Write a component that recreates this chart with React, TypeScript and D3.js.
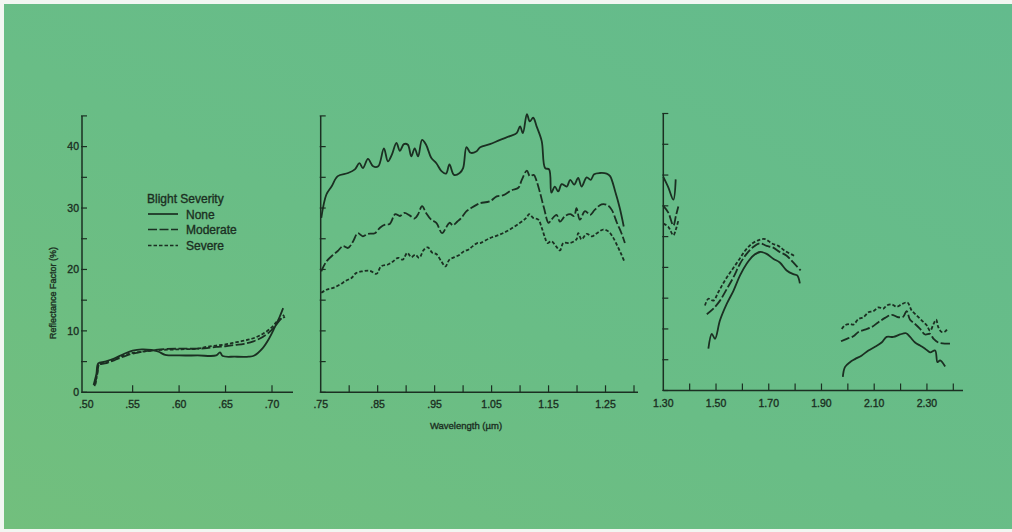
import React from "react";
import * as d3 from "d3";

type Pt = [number, number];

// ---------- DATA ----------
const seriesNames = ["None", "Moderate", "Severe"];
const yTickValues = [0, 5, 10, 15, 20, 25, 30, 35, 40, 45];
const yLabelValues = [0, 10, 20, 30, 40];

const p1TickValues = [0.55, 0.6, 0.65, 0.7];
const p1LabelValues = [0.5, 0.55, 0.6, 0.65, 0.7];
const p1LabelText = [".50", ".55", ".60", ".65", ".70"];

const p2TickValues = [0.8, 0.85, 0.9, 0.95, 1.0, 1.05, 1.1, 1.15, 1.2, 1.25, 1.3];
const p2LabelValues = [0.75, 0.85, 0.95, 1.05, 1.15, 1.25];
const p2LabelText = [".75", ".85", ".95", "1.05", "1.15", "1.25"];

const p3TickValues = [1.4, 1.5, 1.6, 1.7, 1.8, 1.9, 2.0, 2.1, 2.2, 2.3, 2.4];
const p3LabelValues = [1.3, 1.5, 1.7, 1.9, 2.1, 2.3];
const p3LabelText = ["1.30", "1.50", "1.70", "1.90", "2.10", "2.30"];

// Panel 1 (visible)
const p1None: Pt[] = [[0.508,1.2],[0.511,3.0],[0.513,4.7],[0.52,5.0],[0.53,5.5],[0.54,6.2],[0.55,6.8],[0.56,7.0],[0.57,6.9],[0.578,6.6],[0.585,6.1],[0.6,6.0],[0.62,6.0],[0.64,6.0],[0.644,6.5],[0.647,5.9],[0.66,5.8],[0.675,5.8],[0.681,6.0],[0.69,7.2],[0.697,8.8],[0.703,10.6],[0.708,12.2],[0.712,13.7]];
const p1Moderate: Pt[] = [[0.509,1.0],[0.512,3.0],[0.514,4.5],[0.52,4.7],[0.53,5.2],[0.54,5.8],[0.55,6.3],[0.56,6.6],[0.57,6.8],[0.58,7.0],[0.6,7.1],[0.62,7.1],[0.63,7.2],[0.64,7.4],[0.65,7.5],[0.66,7.7],[0.67,7.9],[0.68,8.3],[0.69,9.0],[0.7,10.2],[0.706,11.3],[0.713,12.6]];
const p1Severe: Pt[] = [[0.51,1.3],[0.512,3.2],[0.514,4.6],[0.52,4.8],[0.53,5.3],[0.54,6.0],[0.55,6.4],[0.56,6.6],[0.57,6.8],[0.58,6.9],[0.6,7.0],[0.62,7.1],[0.63,7.4],[0.64,7.6],[0.65,7.8],[0.66,8.1],[0.67,8.4],[0.68,8.8],[0.69,9.5],[0.7,10.6],[0.706,11.6],[0.714,12.3]];

// Panel 2 (near infrared)
const p2None: Pt[] = [[0.751,28.4],[0.76,32.2],[0.769,33.5],[0.78,35.2],[0.798,35.7],[0.81,36.3],[0.818,37.3],[0.824,36.5],[0.833,38.0],[0.842,36.8],[0.851,36.8],[0.861,39.7],[0.868,37.6],[0.875,38.7],[0.883,40.6],[0.889,39.3],[0.896,40.4],[0.903,40.3],[0.909,38.4],[0.915,39.7],[0.921,38.4],[0.928,41.1],[0.935,40.3],[0.944,38.2],[0.953,37.3],[0.962,36.0],[0.97,35.6],[0.976,37.1],[0.984,35.4],[0.994,35.7],[1.0,36.5],[1.006,39.9],[1.013,39.0],[1.023,39.2],[1.03,39.9],[1.047,40.4],[1.065,41.1],[1.082,41.7],[1.094,42.2],[1.1,43.3],[1.105,42.2],[1.112,45.3],[1.117,44.1],[1.123,44.7],[1.129,43.3],[1.138,40.9],[1.144,36.5],[1.151,36.3],[1.155,32.5],[1.161,33.5],[1.167,32.7],[1.173,33.9],[1.182,33.5],[1.188,34.6],[1.195,33.8],[1.202,34.9],[1.208,33.5],[1.217,35.0],[1.224,34.6],[1.23,35.5],[1.24,35.7],[1.252,35.6],[1.258,35.2],[1.267,32.7],[1.275,30.0],[1.282,27.0]];
const p2Moderate: Pt[] = [[0.751,19.7],[0.76,21.3],[0.772,22.4],[0.78,23.0],[0.789,23.8],[0.798,23.5],[0.807,24.6],[0.815,25.9],[0.824,25.4],[0.833,25.8],[0.845,25.9],[0.854,26.8],[0.863,27.3],[0.871,27.4],[0.881,29.0],[0.889,28.7],[0.897,29.2],[0.906,28.8],[0.915,28.3],[0.921,29.0],[0.928,30.3],[0.935,29.2],[0.944,28.1],[0.953,27.6],[0.963,25.9],[0.97,26.8],[0.976,27.6],[0.982,27.2],[0.99,27.8],[0.997,28.4],[1.006,29.5],[1.014,30.0],[1.025,30.6],[1.03,30.8],[1.047,31.1],[1.059,31.9],[1.071,32.1],[1.085,32.9],[1.097,33.3],[1.103,34.6],[1.112,36.1],[1.117,35.2],[1.124,35.4],[1.129,34.4],[1.135,32.5],[1.142,30.0],[1.15,27.6],[1.155,28.1],[1.164,28.9],[1.17,27.8],[1.179,28.7],[1.188,29.0],[1.195,28.7],[1.199,30.0],[1.205,28.1],[1.214,29.5],[1.223,28.9],[1.231,29.7],[1.243,30.6],[1.253,30.5],[1.261,29.7],[1.27,27.6],[1.278,25.9],[1.284,24.3]];
const p2Severe: Pt[] = [[0.751,16.2],[0.76,16.7],[0.772,17.0],[0.783,17.5],[0.795,18.2],[0.804,18.6],[0.812,19.4],[0.824,19.7],[0.836,19.8],[0.848,19.3],[0.856,20.5],[0.868,20.8],[0.877,21.3],[0.886,21.9],[0.894,21.6],[0.902,22.7],[0.909,22.0],[0.916,22.4],[0.923,21.9],[0.931,23.2],[0.938,23.6],[0.946,22.7],[0.953,22.5],[0.962,21.3],[0.969,20.5],[0.976,21.6],[0.985,22.0],[0.994,22.4],[1.002,23.0],[1.009,23.2],[1.017,23.8],[1.025,24.3],[1.03,24.3],[1.047,25.1],[1.065,25.7],[1.082,26.5],[1.1,27.6],[1.111,28.4],[1.116,29.0],[1.123,28.4],[1.132,28.1],[1.138,26.8],[1.144,25.1],[1.148,24.3],[1.155,24.6],[1.163,23.8],[1.17,23.1],[1.176,24.3],[1.188,24.3],[1.199,24.9],[1.202,25.9],[1.208,24.9],[1.217,25.8],[1.226,25.4],[1.235,25.9],[1.246,26.5],[1.255,26.2],[1.262,25.4],[1.27,24.0],[1.278,22.4],[1.284,21.1]];

// Panel 3 (middle infrared), three segments per series
const p3NoneA: Pt[] = [[1.3,34.7],[1.319,33.0],[1.338,31.0],[1.347,34.3]];
const p3ModerateA: Pt[] = [[1.3,30.0],[1.319,28.9],[1.338,26.8],[1.348,28.4],[1.357,29.9]];
const p3SevereA: Pt[] = [[1.3,27.1],[1.319,26.6],[1.338,25.2],[1.348,26.2],[1.357,27.6]];

const p3NoneB: Pt[] = [[1.471,6.8],[1.484,9.2],[1.496,8.4],[1.515,11.4],[1.541,14.1],[1.566,16.2],[1.591,18.7],[1.616,20.6],[1.641,21.9],[1.667,22.5],[1.692,22.2],[1.717,21.4],[1.742,20.8],[1.768,19.5],[1.793,18.9],[1.808,18.7],[1.818,17.4]];
const p3ModerateB: Pt[] = [[1.465,12.4],[1.49,13.3],[1.515,14.6],[1.541,16.5],[1.566,18.4],[1.591,20.6],[1.616,22.2],[1.641,23.3],[1.667,23.9],[1.692,23.5],[1.717,23.2],[1.742,22.5],[1.768,21.9],[1.793,20.8],[1.821,19.5]];
const p3SevereB: Pt[] = [[1.458,13.8],[1.471,14.9],[1.49,14.6],[1.509,16.0],[1.534,17.9],[1.559,19.5],[1.585,21.1],[1.61,22.7],[1.635,23.8],[1.66,24.4],[1.686,24.6],[1.711,23.9],[1.736,23.5],[1.761,22.7],[1.796,21.9]];

const p3NoneC: Pt[] = [[1.981,2.2],[1.989,3.8],[2.008,4.6],[2.027,5.1],[2.053,5.7],[2.078,6.5],[2.103,7.1],[2.128,7.8],[2.147,8.7],[2.173,8.7],[2.198,9.1],[2.221,9.3],[2.236,8.7],[2.255,7.8],[2.274,7.3],[2.293,6.8],[2.312,6.2],[2.331,6.5],[2.34,4.6],[2.35,4.9],[2.369,3.9]];
const p3ModerateC: Pt[] = [[1.974,8.0],[1.996,8.4],[2.021,8.8],[2.04,9.5],[2.065,9.9],[2.09,10.3],[2.116,11.1],[2.141,11.8],[2.166,12.3],[2.191,11.9],[2.21,12.0],[2.223,12.9],[2.236,11.5],[2.255,10.8],[2.274,10.0],[2.293,9.1],[2.312,9.2],[2.325,8.4],[2.343,7.8],[2.388,7.6]];
const p3SevereC: Pt[] = [[1.977,10.0],[1.989,10.6],[2.008,10.8],[2.021,10.7],[2.04,11.6],[2.059,11.9],[2.078,12.7],[2.097,12.9],[2.116,13.5],[2.135,13.3],[2.147,13.8],[2.166,14.0],[2.185,13.6],[2.204,14.0],[2.226,14.3],[2.242,13.0],[2.261,12.2],[2.28,11.4],[2.299,10.6],[2.312,9.7],[2.325,10.8],[2.335,11.5],[2.343,10.3],[2.356,9.5],[2.369,9.6],[2.381,10.2]];

// ---------- STYLE ----------
const INK = "#1b2f22";
const FONT = "'Liberation Sans', Arial, sans-serif";
const dashes = [null, "9,2.5", "3.5,2"];

const W = 1012;
const H = 532;

type PanelDef = {
  xDomain: [number, number];
  xRange: [number, number];
  xAxisEnd: number;
  yRange: [number, number];
  ticks: number[];
  labelValues: number[];
  labelText: string[];
  series: Pt[][][];
  yLabels: boolean;
};

const panels: PanelDef[] = [
  { xDomain: [0.4955, 0.7226], xRange: [82, 293], xAxisEnd: 293, yRange: [392.3, 115.9], ticks: p1TickValues, labelValues: p1LabelValues, labelText: p1LabelText, series: [[p1None], [p1Moderate], [p1Severe]], yLabels: true },
  { xDomain: [0.75, 1.3], xRange: [320.7, 634], xAxisEnd: 638, yRange: [392.3, 115.9], ticks: p2TickValues, labelValues: p2LabelValues, labelText: p2LabelText, series: [[p2None], [p2Moderate], [p2Severe]], yLabels: false },
  { xDomain: [1.3, 2.4], xRange: [663.3, 953.3], xAxisEnd: 963, yRange: [390.5, 113.5], ticks: p3TickValues, labelValues: p3LabelValues, labelText: p3LabelText, series: [[p3NoneA, p3NoneB, p3NoneC], [p3ModerateA, p3ModerateB, p3ModerateC], [p3SevereA, p3SevereB, p3SevereC]], yLabels: false },
];

const textStyle = { stroke: INK, strokeWidth: 0.35 } as const;

function Panel({ p }: { p: PanelDef }) {
  const x = d3.scaleLinear().domain(p.xDomain).range(p.xRange);
  const y = d3.scaleLinear().domain([0, 45]).range(p.yRange);
  const line = d3.line<Pt>().x((d) => x(d[0])).y((d) => y(d[1])).curve(d3.curveCatmullRom.alpha(0.5));
  const x0 = p.xRange[0];
  const y0 = p.yRange[0];
  return (
    <g>
      {p.series.map((segs, si) =>
        segs.map((seg, k) => (
          <path key={`${si}-${k}`} d={line(seg) || ""} fill="none" stroke={INK} strokeWidth={1.8}
            strokeDasharray={dashes[si] || undefined} strokeLinejoin="round" />
        ))
      )}
      <line x1={x0} x2={x0} y1={y(45)} y2={y0} stroke={INK} strokeWidth={1.5} />
      <line x1={x0} x2={p.xAxisEnd} y1={y0} y2={y0} stroke={INK} strokeWidth={1.5} />
      {yTickValues.map((v) => (
        <line key={v} x1={x0 - 1} x2={x0 + 5} y1={y(v)} y2={y(v)} stroke={INK} strokeWidth={1.2} />
      ))}
      {p.ticks.map((v) => (
        <line key={v} x1={x(v)} x2={x(v)} y1={y0} y2={y0 - 7} stroke={INK} strokeWidth={1.2} />
      ))}
      {p.labelValues.map((v, i) => (
        <text key={v} x={x(v)} y={y0 + 16} textAnchor="middle" fontSize={10.5} fontFamily={FONT} fill={INK} style={textStyle}>
          {p.labelText[i]}
        </text>
      ))}
      {p.yLabels &&
        yLabelValues.map((v) => (
          <text key={v} x={x0 - 3} y={y(v) + 3.8} textAnchor="end" fontSize={10.5} fontFamily={FONT} fill={INK} style={textStyle}>
            {v}
          </text>
        ))}
    </g>
  );
}

export default function App() {
  const legendX = 148;
  const legendRows = [214, 229.5, 245.5];
  return (
    <div style={{ position: "fixed", left: 0, top: 0, width: W, height: H }}>
      <svg width={W} height={H} viewBox={`0 0 ${W} ${H}`} style={{ display: "block" }}>
        <defs>
          <linearGradient id="bg" x1="1" y1="0" x2="0" y2="1">
            <stop offset="0%" stopColor="#63bb8d" />
            <stop offset="55%" stopColor="#69bd86" />
            <stop offset="100%" stopColor="#72bf7d" />
          </linearGradient>
        </defs>
        <rect x={0} y={0} width={W} height={H} fill="#f2f6f2" />
        <rect x={4} y={4} width={W - 4} height={H - 7} fill="url(#bg)" />
        {panels.map((p, i) => (
          <Panel key={i} p={p} />
        ))}
        <text x={466} y={429} textAnchor="middle" fontSize={9.5} fontFamily={FONT} fill={INK} style={textStyle}>
          Wavelength (µm)
        </text>
        <text transform="translate(56,293) rotate(-90)" textAnchor="middle" fontSize={9} fontFamily={FONT} fill={INK} style={textStyle}>
          Reflectance Factor (%)
        </text>
        <text x={147} y={203} fontSize={12} fontFamily={FONT} fill={INK} style={textStyle}>
          Blight Severity
        </text>
        {seriesNames.map((n, i) => (
          <g key={n}>
            <line x1={legendX} x2={legendX + 30} y1={legendRows[i]} y2={legendRows[i]} stroke={INK} strokeWidth={1.7}
              strokeDasharray={dashes[i] || undefined} />
            <text x={186} y={legendRows[i] + 4.5} fontSize={12} fontFamily={FONT} fill={INK} style={textStyle}>
              {n}
            </text>
          </g>
        ))}
      </svg>
    </div>
  );
}
